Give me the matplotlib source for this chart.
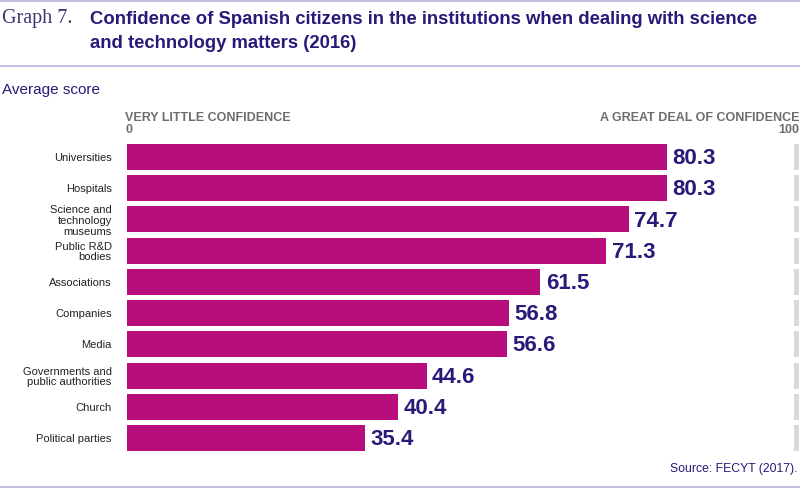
import matplotlib
matplotlib.use("Agg")
import matplotlib.pyplot as plt

# data
categories = ["Universities", "Hospitals", "Science and\ntechnology\nmuseums",
              "Public R&D\nbodies", "Associations", "Companies", "Media",
              "Governments and\npublic authorities", "Church", "Political parties"]
scores = [80.3, 80.3, 74.7, 71.3, 61.5, 56.8, 56.6, 44.6, 40.4, 35.4]

navy = "#271a78"
magenta = "#b80e7c"
grey_txt = "#6d6d6d"
rule = "#b7b2dc"

plt.rcParams['font.family'] = ['Liberation Sans', 'DejaVu Sans']

fig = plt.figure(figsize=(8, 4.92), dpi=100)
ax = fig.add_axes([127/800, 1 - 453.6/492, 672/800, 312.2/492])

ypos = list(range(len(scores)))
ax.barh(ypos, scores, height=0.83, color=magenta)
ax.barh(ypos, [0.8] * len(scores), left=99.2, height=0.83, color="#d9d9d9")
for y, v in zip(ypos, scores):
    ax.text(v + 0.8, y + 0.05, f"{v:.1f}", va="center", ha="left",
            fontsize=16, fontweight="bold", color=navy)

ax.set_xlim(0, 100)
ax.set_ylim(9.5, -0.5)
ax.set_yticks(ypos)
ax.set_yticklabels(categories, fontsize=8, linespacing=1.1, color="#222222")
ax.tick_params(axis="y", length=0, pad=11)
ax.set_xticks([])
for s in ax.spines.values():
    s.set_visible(False)

# header and footer
fig.add_artist(plt.Line2D([0, 1], [1 - 1/492, 1 - 1/492], color=rule, lw=1.2))
fig.add_artist(plt.Line2D([0, 1], [1 - 66/492, 1 - 66/492], color=rule, lw=1.2))
fig.add_artist(plt.Line2D([0, 1], [1 - 487/492, 1 - 487/492], color=rule, lw=1.2))

fig.text(2/800, 1 - 19/492, "Graph 7.", fontsize=14.5, color="#3a3670",
         family="Liberation Serif", va="center", ha="left")
fig.text(90/800, 1 - 31.5/492,
         "Confidence of Spanish citizens in the institutions when dealing with science\nand technology matters (2016)",
         fontsize=13.3, fontweight="bold", color=navy, va="center", ha="left",
         linespacing=1.6)
fig.text(2/800, 1 - 90/492, "Average score", fontsize=11, color=navy,
         va="center", ha="left")

fig.text(125/800, 1 - 118/492, "VERY LITTLE CONFIDENCE", fontsize=9,
         fontweight="bold", color=grey_txt, va="center", ha="left")
fig.text(125/800, 1 - 130/492, "0", fontsize=9, fontweight="bold",
         color=grey_txt, va="center", ha="left")
fig.text(799/800, 1 - 118/492, "A GREAT DEAL OF CONFIDENCE", fontsize=9,
         fontweight="bold", color=grey_txt, va="center", ha="right")
fig.text(799/800, 1 - 130/492, "100", fontsize=9, fontweight="bold",
         color=grey_txt, va="center", ha="right")

fig.text(797/800, 1 - 469/492, "Source: FECYT (2017).", fontsize=8.8,
         color=navy, va="center", ha="right")

fig.savefig("out.png", dpi=100)
